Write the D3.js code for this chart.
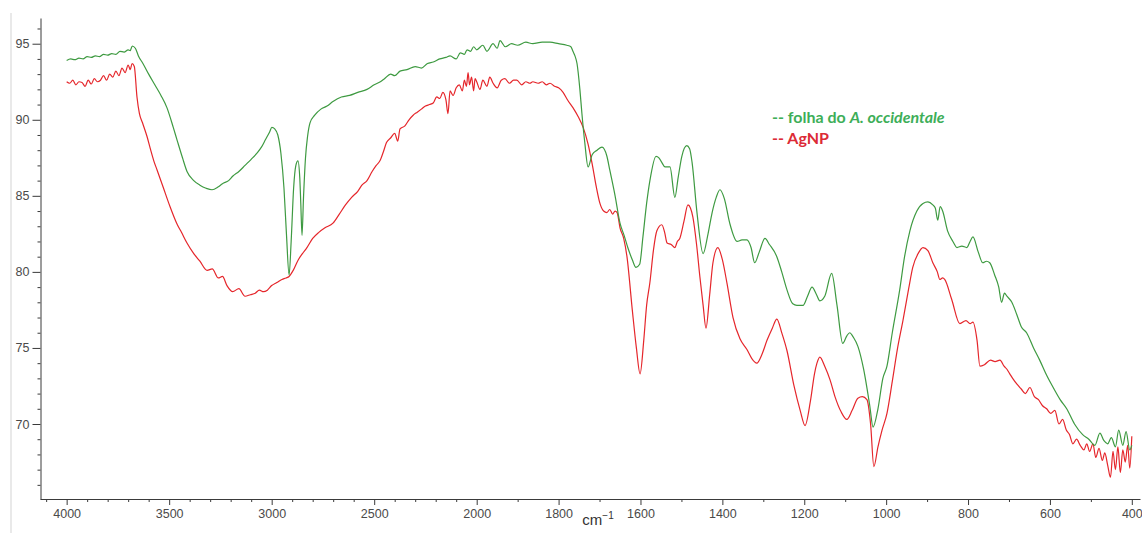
<!DOCTYPE html>
<html>
<head>
<meta charset="utf-8">
<script src="https://cdn.jsdelivr.net/npm/d3@7"></script>
<style>
  body { margin: 0; background: #fff; }
  .axis path, .axis line { stroke: #3a3a3a; stroke-width: 1; }
  .axis text { fill: #4a4a4a; font-family: "Liberation Sans", Arial, sans-serif; font-size: 12.5px; }
</style>
</head>
<body>
<div id="chart"></div>
<script>
var svgWidth = 1142;
var svgHeight = 533;

// leaf extract spectrum (green), [wavenumber, %T]
var leafData = [
  [4000, 93.9], [3980, 94.0], [3960, 93.95], [3940, 94.05], [3920, 94.0], [3900, 94.15], [3880, 94.1], [3860, 94.2],
  [3840, 94.15], [3820, 94.3], [3800, 94.25], [3780, 94.35], [3760, 94.3], [3740, 94.5], [3720, 94.45], [3700, 94.6],
  [3690, 94.55], [3680, 94.85], [3665, 94.7], [3650, 94.2], [3628, 93.7], [3600, 93.0], [3570, 92.3], [3540, 91.6],
  [3511, 90.8], [3480, 89.5], [3460, 88.6], [3435, 87.5], [3413, 86.6], [3380, 86.0], [3350, 85.7], [3320, 85.5],
  [3291, 85.4], [3260, 85.6], [3240, 85.8], [3210, 86.0], [3189, 86.3], [3160, 86.6], [3130, 87.0], [3100, 87.4],
  [3072, 87.8], [3050, 88.2], [3030, 88.7], [3010, 89.2], [2999, 89.5], [2985, 89.4], [2970, 89.0], [2955, 87.8],
  [2940, 85.5], [2928, 82.5], [2915, 79.8], [2905, 82.0], [2893, 85.5], [2882, 87.0], [2872, 87.3], [2863, 86.2],
  [2858, 84.5], [2852, 82.4], [2845, 84.8], [2835, 87.5], [2825, 88.9], [2813, 89.8], [2790, 90.3], [2760, 90.7],
  [2730, 90.9], [2701, 91.2], [2660, 91.5], [2620, 91.6], [2580, 91.8], [2535, 92.0], [2500, 92.3], [2470, 92.5],
  [2450, 92.7], [2420, 93.0], [2400, 92.9], [2374, 93.2], [2340, 93.3], [2300, 93.5], [2270, 93.4], [2240, 93.7],
  [2212, 93.8], [2180, 94.0], [2150, 94.1], [2130, 94.2], [2100, 94.0], [2080, 94.4], [2060, 94.3], [2047, 94.6],
  [2030, 94.5], [2015, 94.8], [2000, 94.6], [1985, 94.9], [1975, 94.5], [1960, 95.0], [1950, 94.7], [1943, 95.2],
  [1930, 94.8], [1915, 95.0], [1900, 94.9], [1880, 95.1], [1863, 95.0], [1840, 95.1], [1821, 95.1], [1800, 95.0],
  [1780, 94.9], [1770, 94.8], [1765, 94.5], [1760, 94.2], [1755, 93.7], [1748, 92.0], [1743, 90.4], [1736, 88.5],
  [1728, 86.9], [1718, 87.7], [1706, 88.0], [1694, 88.2], [1682, 87.6], [1675, 86.7], [1662, 85.0], [1650, 83.2],
  [1640, 82.4], [1631, 81.6], [1620, 80.8], [1611, 80.3], [1602, 80.5], [1594, 82.3], [1585, 84.5], [1577, 86.0],
  [1562, 87.6], [1555, 87.5], [1548, 87.2], [1540, 86.9], [1528, 86.9], [1516, 84.9], [1508, 86.2], [1499, 87.6],
  [1487, 88.3], [1480, 88.1], [1474, 87.2], [1462, 83.9], [1447, 81.2], [1435, 82.5], [1425, 83.9], [1415, 84.9],
  [1406, 85.4], [1395, 84.8], [1382, 83.2], [1364, 82.0], [1352, 82.1], [1340, 82.1], [1330, 81.6], [1321, 80.6],
  [1310, 81.3], [1296, 82.2], [1285, 81.8], [1267, 81.0], [1255, 80.0], [1242, 78.8], [1228, 77.9], [1218, 77.8],
  [1203, 77.8], [1192, 78.4], [1181, 79.0], [1170, 78.5], [1162, 78.1], [1150, 78.4], [1133, 79.9], [1120, 77.8],
  [1106, 75.3], [1096, 75.8], [1089, 76.0], [1080, 75.7], [1069, 75.1], [1055, 73.6], [1040, 71.2], [1032, 69.8],
  [1020, 71.0], [1008, 73.0], [998, 73.8], [985, 76.0], [967, 78.8], [955, 81.0], [942, 82.7], [925, 84.0],
  [910, 84.5], [898, 84.6], [886, 84.4], [880, 84.2], [874, 83.4], [868, 84.3], [862, 84.0], [850, 82.7],
  [837, 82.0], [827, 81.6], [815, 81.7], [803, 81.6], [795, 82.0], [788, 82.3], [775, 81.3], [764, 80.6],
  [755, 80.7], [747, 80.6], [735, 79.8], [725, 79.0], [718, 78.0], [711, 78.6], [705, 78.4], [693, 78.0],
  [681, 77.2], [670, 76.4], [657, 76.0], [640, 75.0], [625, 74.2], [608, 73.2], [590, 72.3], [575, 71.6],
  [559, 71.0], [540, 70.0], [520, 69.3], [505, 69.0], [490, 68.6], [478, 69.4], [468, 68.9], [459, 68.7],
  [450, 69.1], [440, 68.5], [432, 69.6], [422, 68.6], [414, 69.5], [405, 68.3], [400, 68.6]
];

// silver nanoparticle spectrum (red), [wavenumber, %T]
var agData = [
  [4000, 92.5], [3985, 92.4], [3970, 92.6], [3955, 92.3], [3940, 92.5], [3925, 92.45], [3910, 92.2], [3895, 92.6],
  [3880, 92.35], [3865, 92.7], [3850, 92.5], [3835, 92.6], [3820, 92.9], [3805, 92.6], [3790, 93.0], [3775, 92.8],
  [3760, 93.2], [3745, 92.9], [3730, 93.4], [3715, 93.1], [3700, 93.6], [3690, 93.3], [3681, 93.7], [3670, 93.5],
  [3657, 91.5], [3645, 90.4], [3630, 89.8], [3608, 88.9], [3590, 88.0], [3575, 87.3], [3559, 86.7], [3530, 85.6],
  [3496, 84.3], [3460, 83.1], [3440, 82.6], [3413, 81.9], [3380, 81.2], [3350, 80.7], [3315, 80.1], [3290, 80.2],
  [3260, 79.6], [3240, 79.7], [3218, 79.1], [3190, 78.7], [3160, 78.9], [3130, 78.4], [3104, 78.5], [3080, 78.6],
  [3060, 78.8], [3040, 78.7], [3021, 78.8], [3000, 79.1], [2975, 79.3], [2950, 79.5], [2930, 79.6], [2915, 79.7],
  [2895, 80.1], [2870, 80.8], [2850, 81.2], [2828, 81.6], [2800, 82.2], [2770, 82.6], [2740, 82.9], [2701, 83.2],
  [2670, 83.8], [2640, 84.4], [2610, 84.9], [2580, 85.3], [2560, 85.7], [2535, 86.0], [2510, 86.6], [2490, 87.0],
  [2472, 87.3], [2455, 87.9], [2440, 88.5], [2420, 88.8], [2400, 89.1], [2385, 88.6], [2374, 89.4], [2350, 89.6],
  [2330, 90.0], [2310, 90.3], [2290, 90.5], [2270, 90.7], [2250, 90.9], [2230, 91.0], [2212, 91.1], [2195, 91.5],
  [2180, 91.4], [2165, 91.8], [2150, 91.3], [2140, 90.4], [2130, 91.9], [2115, 91.6], [2100, 92.1], [2085, 92.3],
  [2070, 91.9], [2060, 92.6], [2050, 92.2], [2042, 93.1], [2035, 92.3], [2025, 92.8], [2015, 91.9], [2008, 92.7],
  [2000, 92.5], [1992, 92.0], [1985, 92.6], [1975, 92.2], [1968, 92.8], [1960, 92.4], [1950, 92.1], [1940, 92.6],
  [1931, 92.7], [1920, 92.4], [1910, 92.6], [1902, 92.6], [1890, 92.3], [1880, 92.5], [1870, 92.4], [1863, 92.5],
  [1850, 92.4], [1840, 92.5], [1830, 92.3], [1821, 92.4], [1810, 92.2], [1800, 92.1], [1789, 91.8], [1778, 91.3],
  [1765, 90.8], [1752, 90.2], [1740, 89.5], [1728, 88.4], [1718, 87.1], [1708, 85.6], [1699, 84.5], [1690, 84.0],
  [1682, 83.9], [1675, 84.1], [1668, 83.8], [1662, 84.0], [1657, 83.9], [1650, 82.9], [1641, 82.2], [1633, 81.0],
  [1620, 77.5], [1610, 75.0], [1601, 73.3], [1592, 75.5], [1585, 77.8], [1577, 79.3], [1568, 81.5], [1560, 82.7],
  [1548, 83.1], [1541, 82.6], [1535, 81.9], [1525, 81.8], [1516, 81.6], [1510, 82.0], [1504, 82.2], [1494, 83.3],
  [1484, 84.4], [1478, 84.2], [1472, 83.6], [1463, 81.8], [1455, 79.7], [1447, 77.8], [1440, 76.3], [1431, 78.5],
  [1423, 80.6], [1411, 81.6], [1400, 80.8], [1389, 79.3], [1374, 77.0], [1357, 75.6], [1340, 74.9], [1328, 74.3],
  [1316, 74.0], [1303, 74.6], [1291, 75.5], [1278, 76.3], [1267, 76.9], [1255, 76.0], [1242, 74.8], [1225, 72.5],
  [1210, 70.9], [1198, 69.9], [1185, 71.5], [1175, 73.3], [1169, 74.0], [1162, 74.4], [1150, 73.8], [1137, 72.9],
  [1125, 71.8], [1110, 70.8], [1096, 70.3], [1083, 70.9], [1069, 71.7], [1058, 71.8], [1047, 71.6], [1038, 70.0],
  [1030, 67.2], [1020, 68.5], [1010, 69.6], [998, 70.7], [985, 72.8], [972, 75.0], [959, 76.8], [945, 78.9],
  [935, 80.3], [922, 81.2], [910, 81.6], [898, 81.4], [886, 80.6], [875, 80.0], [869, 79.5], [862, 79.6],
  [857, 79.5], [840, 78.2], [820, 76.6], [805, 76.8], [795, 76.6], [788, 76.7], [778, 75.5], [771, 73.8],
  [760, 73.9], [745, 74.2], [734, 74.1], [722, 74.2], [712, 73.8], [705, 73.6], [698, 73.3], [691, 73.0],
  [680, 72.6], [670, 72.3], [660, 72.0], [649, 72.4], [638, 71.8], [628, 71.6], [618, 71.2], [608, 71.0],
  [598, 70.7], [588, 70.9], [578, 70.0], [569, 70.3], [560, 69.6], [552, 69.3], [544, 68.7], [535, 69.0],
  [526, 68.6], [517, 68.3], [510, 68.7], [503, 68.2], [495, 68.7], [488, 67.8], [480, 68.4], [472, 67.6],
  [466, 68.1], [459, 67.3], [452, 66.5], [446, 68.2], [440, 67.0], [434, 68.5], [428, 66.8], [422, 68.3],
  [416, 67.5], [410, 68.6], [405, 67.1], [400, 69.2]
];

var majorX = [4000, 3500, 3000, 2500, 2000, 1800, 1600, 1400, 1200, 1000, 800, 600, 400];
var minorX = d3.range(4100, 399, -100).filter(d => majorX.indexOf(d) < 0);
var majorY = [70, 75, 80, 85, 90, 95];
var minorY = d3.range(66, 97, 1).filter(d => majorY.indexOf(d) < 0);

var legendLabels = ["folha do ", "AgNP"];
var lineColors = ["#3e9a41", "#e5262b"];

var svg = d3.select("#chart")
  .append("svg")
  .attr("width", svgWidth)
  .attr("height", svgHeight);

// thin grey frame on the left
svg.append("line")
  .attr("x1", 11).attr("x2", 11)
  .attr("y1", 13).attr("y2", svgHeight)
  .attr("stroke", "#e2e2e2")
  .attr("stroke-width", 1.5);

// x axis is stretched 2x below 2000 cm-1, as in the instrument plot
var xScale = d3.scaleLinear()
  .domain([4130, 2000, 380])
  .range([40, 476.7, 1140]);

var yScale = d3.scaleLinear()
  .domain([65.07, 96.69])
  .range([499, 18]);

var xMinor = svg.append("g")
  .attr("class", "axis")
  .attr("transform", "translate(0, 499)")
  .call(d3.axisBottom(xScale).tickValues(minorX).tickSize(3).tickSizeOuter(0).tickFormat(""));
xMinor.select(".domain").remove();

svg.append("g")
  .attr("class", "axis")
  .attr("transform", "translate(0, 499)")
  .call(d3.axisBottom(xScale).tickValues(majorX).tickSize(6).tickSizeOuter(0).tickPadding(4).tickFormat(d3.format("d")));

var yMinor = svg.append("g")
  .attr("class", "axis")
  .attr("transform", "translate(40.5, 0)")
  .call(d3.axisLeft(yScale).tickValues(minorY).tickSize(3).tickSizeOuter(0).tickFormat(""));
yMinor.select(".domain").remove();

svg.append("g")
  .attr("class", "axis")
  .attr("transform", "translate(40.5, 0)")
  .call(d3.axisLeft(yScale).tickValues(majorY).tickSize(8).tickSizeOuter(0).tickPadding(3));

// unit label
var unit = svg.append("text")
  .attr("x", 598)
  .attr("y", 525)
  .attr("text-anchor", "middle")
  .attr("fill", "#333")
  .style("font-family", "Liberation Sans, Arial, sans-serif")
  .style("font-size", "15px")
  .text("cm");
unit.append("tspan")
  .attr("dy", -6)
  .style("font-size", "10px")
  .text("\u22121");

var line = d3.line()
  .x(d => xScale(d[0]))
  .y(d => yScale(d[1]))
  .curve(d3.curveMonotoneX);

svg.append("path")
  .datum(agData)
  .attr("fill", "none")
  .attr("stroke", lineColors[1])
  .attr("stroke-width", 1.2)
  .attr("d", line);

svg.append("path")
  .datum(leafData)
  .attr("fill", "none")
  .attr("stroke", lineColors[0])
  .attr("stroke-width", 1.2)
  .attr("d", line);

// legend
var leg1 = svg.append("text")
  .attr("x", 772)
  .attr("y", 123)
  .attr("fill", "#3dae58")
  .style("font-family", "Lato, 'Open Sans', sans-serif")
  .style("font-size", "16px")
  .style("font-weight", "bold")
  .text("-- " + legendLabels[0]);
leg1.append("tspan")
  .style("font-style", "italic")
  .text("A. occidentale");

svg.append("text")
  .attr("x", 772)
  .attr("y", 144)
  .attr("fill", "#dc2b36")
  .style("font-family", "Lato, 'Open Sans', sans-serif")
  .style("font-size", "16px")
  .style("font-weight", "bold")
  .text("-- " + legendLabels[1]);
</script>
</body>
</html>
